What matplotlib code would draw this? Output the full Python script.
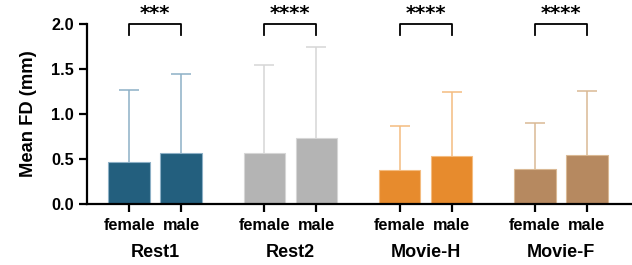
import matplotlib
matplotlib.use("Agg")
import matplotlib.pyplot as plt
import numpy as np

# data
conditions = ["Rest1", "Rest2", "Movie-H", "Movie-F"]
sexes = ["female", "male"]
mean_female = [0.47, 0.57, 0.38, 0.39]
mean_male = [0.57, 0.73, 0.53, 0.54]
sd_female = [0.80, 0.98, 0.49, 0.51]
sd_male = [0.88, 1.01, 0.71, 0.72]
stars = ["***", "****", "****", "****"]

BAR_COLOR = ["#235F7E", "#B4B4B4", "#E78B2D", "#B68960"]
ERR_COLOR = ["#8DB0C6", "#D6D6D6", "#F4BC80", "#DAB995"]

plt.rcParams["font.family"] = ["Liberation Sans", "DejaVu Sans"]
plt.rcParams["font.weight"] = "bold"

fig = plt.figure(figsize=(6.32, 2.65), dpi=100)
ax = fig.add_axes([0.1377, 0.2302, 0.8623, 0.6792])

group_step = 2.6
xs_f = np.arange(len(conditions)) * group_step
xs_m = xs_f + 1

for i in range(len(conditions)):
    for x, m, s in [(xs_f[i], mean_female[i], sd_female[i]),
                    (xs_m[i], mean_male[i], sd_male[i])]:
        ax.bar(x, m, width=0.8, color=BAR_COLOR[i], edgecolor=ERR_COLOR[i],
               linewidth=0.8, zorder=2)
        # upper-only error bar with a cap
        ax.vlines(x, m, m + s, color=ERR_COLOR[i], lw=1.1, zorder=1)
        ax.plot(x, m + s, marker="_", markersize=14, mew=1.1,
                color=ERR_COLOR[i], zorder=1)

    # significance bracket
    x0, x1 = xs_f[i], xs_m[i]
    ax.plot([x0, x0, x1, x1], [1.88, 2.0, 2.0, 1.88], color="black",
            lw=1.3, clip_on=False, zorder=5)
    ax.text((x0 + x1) / 2, 2.06, stars[i], ha="center", va="baseline",
            fontsize=14, family="DejaVu Sans", fontweight="bold",
            clip_on=False)

    ax.text((x0 + x1) / 2, -0.44, conditions[i], ha="center", va="top",
            fontsize=13, fontweight="bold")

ax.set_xticks(np.concatenate([xs_f, xs_m]))
ax.set_xticklabels(sexes[:1] * len(conditions) + sexes[1:] * len(conditions),
                   fontsize=11.7, fontweight="bold")
ax.set_xlim(-0.81, 9.67)
ax.set_ylim(0, 2.0)
ax.set_yticks([0, 0.5, 1.0, 1.5, 2.0])
ax.set_yticklabels(["0.0", "0.5", "1.0", "1.5", "2.0"], fontsize=11.7,
                   fontweight="bold")
ax.set_ylabel("Mean FD (mm)", fontsize=13.2, fontweight="bold", labelpad=10)

for side in ["top", "right"]:
    ax.spines[side].set_visible(False)
for side in ["left", "bottom"]:
    ax.spines[side].set_linewidth(1.6)
ax.tick_params(axis="both", width=1.6, length=6, direction="out")
ax.tick_params(axis="x", pad=4)

fig.savefig("out.png", dpi=100)
